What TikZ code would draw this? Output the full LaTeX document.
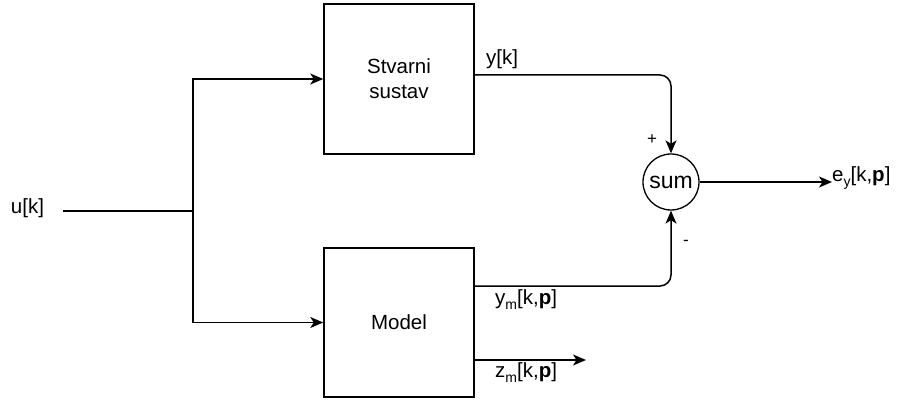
\documentclass[tikz,border=0pt]{standalone}
\usepackage{fontspec}
\setmainfont{Liberation Sans}
\usetikzlibrary{arrows.meta}
\newcommand\mysub[1]{\raisebox{-5pt}{\fontsize{14}{14}\selectfont #1}}
\begin{document}
\begin{tikzpicture}[x=1pt,y=-1pt,
  every node/.style={font=\fontsize{20.5}{25}\selectfont, text=black},
  blk/.style={draw, line width=1.5pt, minimum width=150pt, minimum height=150pt, align=center, inner sep=0pt},
  sumnode/.style={draw, circle, line width=1.3pt, minimum size=56pt, inner sep=0pt, font=\fontsize{23}{25}\selectfont},
  arr/.style={line width=1.5pt, -{Stealth[length=13pt,width=11pt,inset=3.5pt]}},
  ln/.style={line width=1.5pt},
  lbl/.style={inner sep=0pt}]
\useasboundingbox (0,0) rectangle (898,401);
\node[blk] (sys) at (399,79) {Stvarni\\sustav};
\node[blk, minimum height=149pt] (mod) at (399,322.5) {Model};
\node[sumnode] (sum) at (671,182) {sum};
\node[lbl] (u) at (27.5,208) {u[k]};
\coordinate (uin) at (63,211);
\coordinate (split) at (193,211);
\draw[ln] (uin) -- (split);
\draw[arr] (split) |- (sys.west);
\draw[arr] (split) |- (mod.west);
\draw[arr, rounded corners=11pt] ([yshift=4pt]sys.east) -| (sum.north);
\draw[arr, rounded corners=11pt] ([yshift=36.5pt]mod.east) -| (sum.south);
\coordinate (zend) at (586,360);
\draw[arr] ([yshift=-37.5pt]mod.east) -- (zend);
\node[lbl, anchor=west] (ey) at (832,178) {e\mysub{y}[k,\textbf{p}]};
\draw[arr] (sum.east) -- (ey.west |- sum.east);
\node[lbl, anchor=west] (yk) at (486,59) {y[k]};
\node[lbl, anchor=west] (ym) at (495,300) {y\mysub{m}[k,\textbf{p}]};
\node[lbl, anchor=west] (zm) at (495,373) {z\mysub{m}[k,\textbf{p}]};
\node[lbl, font=\fontsize{17}{20}\selectfont] (plus) at (652,140) {+};
\node[lbl, font=\fontsize{17}{20}\selectfont] (minus) at (686,243) {-};
\end{tikzpicture}
\end{document}
